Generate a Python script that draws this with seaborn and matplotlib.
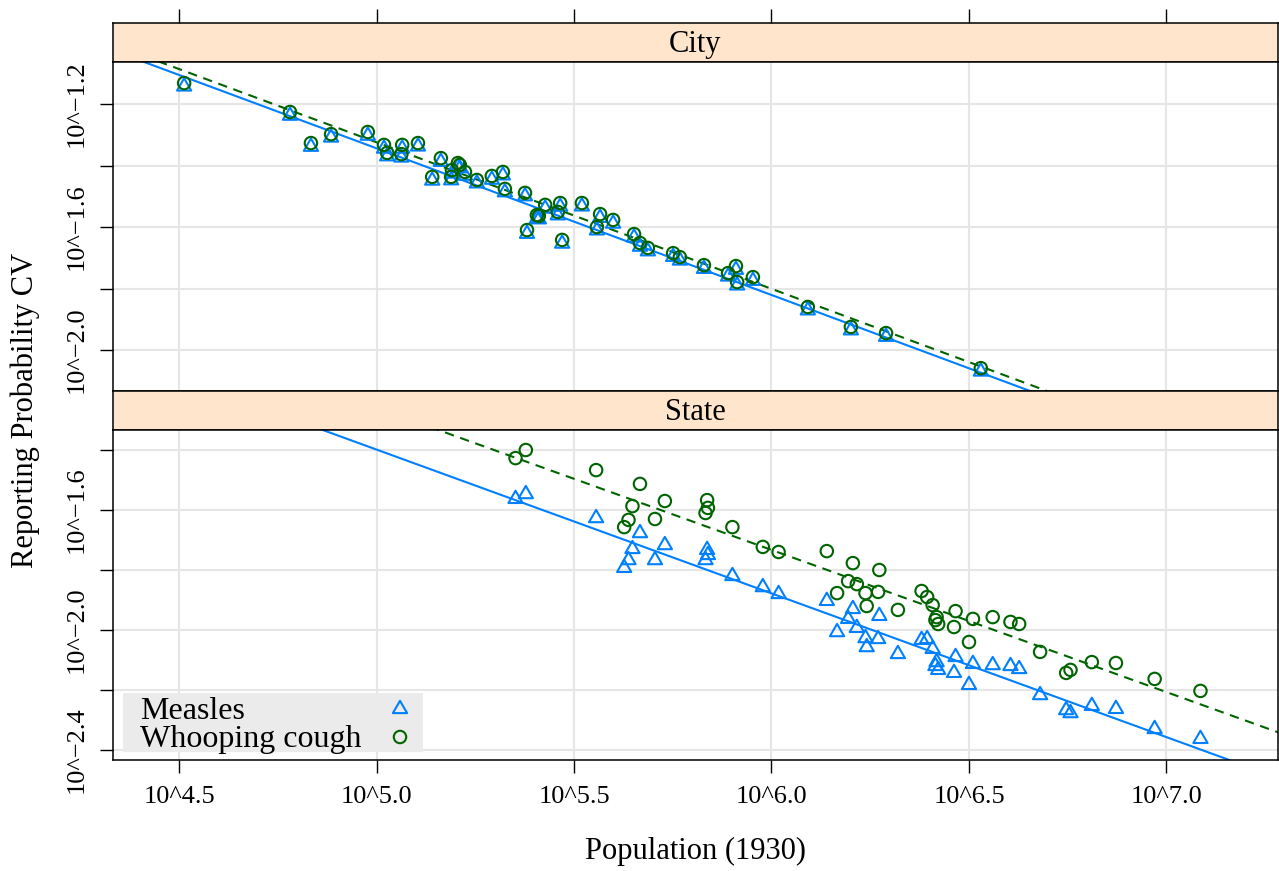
import numpy as np
import pandas as pd
import matplotlib
matplotlib.use("Agg")
import matplotlib.pyplot as plt
import seaborn as sns
from matplotlib.path import Path
from matplotlib.patches import Rectangle
from matplotlib.ticker import FixedLocator, FixedFormatter

sns.set_theme(style="white")
plt.rcParams['font.family'] = ['Liberation Serif', 'DejaVu Serif']
plt.rcParams['text.color'] = 'black'
plt.rcParams['xtick.color'] = 'black'
plt.rcParams['ytick.color'] = 'black'
plt.rcParams['axes.labelcolor'] = 'black'

# ---------------- data (log10 scale) ----------------
panel_names = ["City", "State"]
disease_names = ["Measles", "Whooping cough"]

city_log_pop = [4.513, 4.781, 4.834, 4.885, 4.978, 5.019, 5.027, 5.065, 5.063, 5.105,
                5.141, 5.163, 5.189, 5.191, 5.206, 5.211, 5.224, 5.254, 5.292, 5.320,
                5.325, 5.376, 5.381, 5.406, 5.411, 5.427, 5.459, 5.465, 5.470, 5.520,
                5.558, 5.566, 5.599, 5.652, 5.667, 5.687, 5.751, 5.768, 5.829, 5.890,
                5.910, 5.913, 5.953, 6.092, 6.201, 6.290, 6.530]
city_whooping_cv = [-1.132, -1.226, -1.327, -1.298, -1.291, -1.333, -1.359, -1.333, -1.363, -1.327,
                    -1.437, -1.376, -1.437, -1.415, -1.392, -1.398, -1.421, -1.447, -1.434, -1.421,
                    -1.476, -1.489, -1.610, -1.561, -1.564, -1.528, -1.551, -1.522, -1.642, -1.522,
                    -1.600, -1.558, -1.577, -1.623, -1.652, -1.668, -1.685, -1.698, -1.724, -1.750,
                    -1.727, -1.779, -1.763, -1.860, -1.925, -1.945, -2.059]
city_measles_cv = [-1.143, -1.238, -1.339, -1.309, -1.303, -1.345, -1.370, -1.345, -1.374, -1.338,
                   -1.449, -1.388, -1.448, -1.426, -1.404, -1.409, -1.433, -1.458, -1.446, -1.432,
                   -1.487, -1.500, -1.622, -1.573, -1.575, -1.540, -1.562, -1.534, -1.654, -1.533,
                   -1.611, -1.570, -1.589, -1.634, -1.664, -1.679, -1.697, -1.709, -1.736, -1.761,
                   -1.739, -1.790, -1.775, -1.871, -1.936, -1.957, -2.070]

state_log_pop = [5.352, 5.378, 5.556, 5.667, 5.648, 5.730, 5.638, 5.627, 5.705, 5.837,
                 5.839, 5.833, 5.901, 5.978, 6.018, 6.140, 6.206, 6.273, 6.194, 6.216,
                 6.166, 6.238, 6.270, 6.241, 6.320, 6.380, 6.394, 6.408, 6.418, 6.415,
                 6.422, 6.466, 6.462, 6.500, 6.510, 6.560, 6.605, 6.627, 6.680, 6.746,
                 6.757, 6.811, 6.872, 6.970, 7.086]
state_whooping_cv = [-1.427, -1.400, -1.467, -1.513, -1.587, -1.570, -1.633, -1.657, -1.630, -1.567,
                     -1.593, -1.610, -1.657, -1.723, -1.740, -1.737, -1.777, -1.800, -1.837, -1.847,
                     -1.877, -1.877, -1.873, -1.920, -1.933, -1.870, -1.890, -1.917, -1.957, -1.967,
                     -1.980, -1.937, -1.990, -2.040, -1.963, -1.957, -1.973, -1.980, -2.073, -2.143,
                     -2.133, -2.107, -2.110, -2.163, -2.203]
state_measles_cv = [-1.563, -1.547, -1.627, -1.677, -1.730, -1.717, -1.767, -1.793, -1.767, -1.733,
                    -1.750, -1.767, -1.820, -1.857, -1.880, -1.903, -1.930, -1.953, -1.963, -1.993,
                    -2.007, -2.027, -2.030, -2.057, -2.080, -2.033, -2.030, -2.063, -2.107, -2.120,
                    -2.133, -2.090, -2.143, -2.183, -2.113, -2.117, -2.120, -2.130, -2.217, -2.267,
                    -2.277, -2.253, -2.263, -2.330, -2.363]

# fitted regression lines (log10 CV = intercept + slope * log10 pop), measles / whooping cough
city_fit_intercepts = [1.041, 1.058]
city_fit_slopes = [-0.477, -0.4765]
state_fit_intercepts = [0.998, 1.111]
state_fit_slopes = [-0.4793, -0.474]

x_ticks = [4.5, 5.0, 5.5, 6.0, 6.5, 7.0]
x_tick_labels = ["10^4.5", "10^5.0", "10^5.5", "10^6.0", "10^6.5", "10^7.0"]
city_y_ticks = [-2.0, -1.8, -1.6, -1.4, -1.2]
city_y_tick_labels = ["10^\u22122.0", "", "10^\u22121.6", "", "10^\u22121.2"]
state_y_ticks = [-2.4, -2.2, -2.0, -1.8, -1.6, -1.4]
state_y_tick_labels = ["10^\u22122.4", "", "10^\u22122.0", "", "10^\u22121.6", ""]

x_limits = (4.3329, 7.2823)
city_y_limits = (-2.1333, -1.0634)
state_y_limits = (-2.4333, -1.3333)

# ---------------- styling ----------------
W, H = 1279, 871
measles_color = "#0080FF"
whooping_color = "#006400"
strip_color = "#FFE5CC"
grid_color = "#E6E6E6"
tick_fs = 19
label_fs = 22
mk_lw = 1.5
tri_s = 140
circ_s = 80

tri_marker = Path([[0, 1], [-0.8660254, -0.5], [0.8660254, -0.5], [0, 1]], closed=True)

fig = plt.figure(figsize=(W / 100, H / 100), dpi=100)
fig.patch.set_facecolor("white")


def px_axes(left, top, right, bottom):
    return fig.add_axes([left / W, 1 - bottom / H, (right - left) / W, (bottom - top) / H])


L, R = 113, 1278
strip_city = px_axes(L, 23, R, 62)
ax_city = px_axes(L, 62, R, 391)
strip_state = px_axes(L, 391, R, 430)
ax_state = px_axes(L, 430, R, 760)


def style_strip(sax, name, top_ticks):
    sax.set_facecolor(strip_color)
    sax.set_xlim(*x_limits)
    sax.set_ylim(0, 1)
    sax.set_yticks([])
    for s in sax.spines.values():
        s.set_color("black")
        s.set_linewidth(1.1)
    if top_ticks:
        sax.xaxis.set_major_locator(FixedLocator(x_ticks))
        sax.tick_params(axis="x", top=True, bottom=False, labeltop=False, labelbottom=False,
                        direction="out", length=10, width=1.0, color="black")
    else:
        sax.set_xticks([])
    sax.text(0.5, 0.45, name, transform=sax.transAxes, ha="center", va="center",
             fontsize=label_fs, color="black")


style_strip(strip_city, panel_names[0], True)
style_strip(strip_state, panel_names[1], False)

panels = [
    (ax_city, city_log_pop, city_measles_cv, city_whooping_cv, city_fit_intercepts, city_fit_slopes,
     city_y_limits, city_y_ticks, city_y_tick_labels, False),
    (ax_state, state_log_pop, state_measles_cv, state_whooping_cv, state_fit_intercepts, state_fit_slopes,
     state_y_limits, state_y_ticks, state_y_tick_labels, True),
]

for ax, xp, ym, yw, ints, slopes, ylim, yt, ytl, bottom in panels:
    ax.set_facecolor("white")
    ax.set_axisbelow(True)
    for v in x_ticks:
        ax.axvline(v, color=grid_color, lw=1.5, zorder=0)
    for v in yt:
        ax.axhline(v, color=grid_color, lw=1.5, zorder=0)

    df = pd.DataFrame({"pop": xp, "Measles": ym, "Whooping cough": yw})
    xs = np.array(x_limits)
    line_df = pd.DataFrame({"x": xs,
                            "m": ints[0] + slopes[0] * xs,
                            "w": ints[1] + slopes[1] * xs})
    sns.lineplot(data=line_df, x="x", y="m", ax=ax, color=measles_color, lw=1.5,
                 estimator=None, sort=False, zorder=2)
    sns.lineplot(data=line_df, x="x", y="w", ax=ax, color=whooping_color, lw=1.5,
                 linestyle=(0, (4.5, 3.2)), estimator=None, sort=False, zorder=2)

    sns.scatterplot(data=df, x="pop", y="Measles", ax=ax, marker=tri_marker, s=tri_s,
                    facecolor="none", edgecolor=measles_color, linewidth=mk_lw, legend=False, zorder=3)
    sns.scatterplot(data=df, x="pop", y="Whooping cough", ax=ax, marker="o", s=circ_s,
                    facecolor="none", edgecolor=whooping_color, linewidth=mk_lw, legend=False, zorder=4)

    ax.set_xlim(*x_limits)
    ax.set_ylim(*ylim)
    ax.set_xlabel("")
    ax.set_ylabel("")
    for s in ax.spines.values():
        s.set_color("black")
        s.set_linewidth(1.1)
    ax.yaxis.set_major_locator(FixedLocator(yt))
    ax.yaxis.set_major_formatter(FixedFormatter(ytl))
    ax.tick_params(axis="y", left=True, right=False, direction="out", length=9.5, width=1.0,
                   color="black", labelsize=tick_fs, pad=9, labelcolor="black")
    for lab in ax.get_yticklabels():
        lab.set_rotation(90)
        lab.set_va("center")
    ax.xaxis.set_major_locator(FixedLocator(x_ticks))
    if bottom:
        ax.xaxis.set_major_formatter(FixedFormatter(x_tick_labels))
        ax.tick_params(axis="x", bottom=True, top=False, direction="out", length=9.5, width=1.0,
                       color="black", labelsize=tick_fs, pad=9, labelcolor="black")
    else:
        ax.tick_params(axis="x", bottom=False, top=False, labelbottom=False)

# legend (manual, lattice style) in the State panel
leg_l, leg_b = (123 - L) / (R - L), (760 - 752) / 330
leg_w, leg_h = 300 / (R - L), 59 / 330
ax_state.add_patch(Rectangle((leg_l, leg_b), leg_w, leg_h, transform=ax_state.transAxes,
                             facecolor="#EBEBEB", edgecolor="none", zorder=5))
ax_state.text((140 - L) / (R - L), (760 - 719) / 330, disease_names[0], transform=ax_state.transAxes,
              fontsize=23, va="baseline", ha="left", zorder=6, color="black")
ax_state.text((140 - L) / (R - L), (760 - 747) / 330, disease_names[1], transform=ax_state.transAxes,
              fontsize=23, va="baseline", ha="left", zorder=6, color="black")
ax_state.scatter([(400 - L) / (R - L)], [(760 - 709) / 330], transform=ax_state.transAxes,
                 marker=tri_marker, s=tri_s, facecolor="none", edgecolor=measles_color, linewidth=mk_lw, zorder=6)
ax_state.scatter([(400 - L) / (R - L)], [(760 - 737) / 330], transform=ax_state.transAxes,
                 marker="o", s=circ_s, facecolor="none", edgecolor=whooping_color, linewidth=mk_lw, zorder=6)

fig.text(25 / W, 1 - 410 / H, "Reporting Probability CV", rotation=90, ha="center", va="center",
         fontsize=label_fs, color="black")
fig.text((L + R) / 2 / W, 1 - 851 / H, "Population (1930)", ha="center", va="center",
         fontsize=label_fs, color="black")

fig.savefig("out.png", dpi=100)
